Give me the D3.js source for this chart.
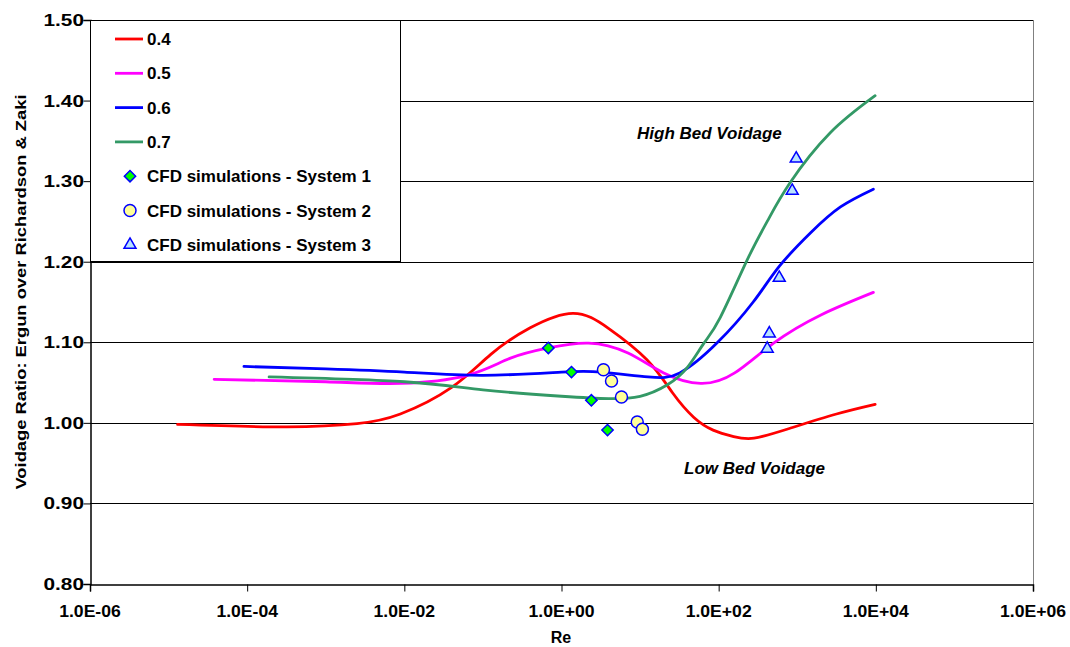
<!DOCTYPE html>
<html>
<head>
<meta charset="utf-8">
<script src="https://cdn.jsdelivr.net/npm/d3@7"></script>
<style>
  body { margin: 0; background: #fff; }
  svg { display: block; font-family: "Liberation Sans", Arial, sans-serif; }
  .tick-label { font-size: 16px; font-weight: bold; fill: #000; }
  .legend-text { font-size: 17px; font-weight: bold; }
  .note { font-size: 17px; font-weight: bold; font-style: italic; }
</style>
</head>
<body>
<svg id="canvas" width="1070" height="647"></svg>
<script>
// voidage curves (Re, ratio)
let re04 = [1.3e-5, 3.2e-4, 2.5e-3, 8.9e-3, 0.04, 0.126, 0.4, 1.4, 4, 12.3, 26, 48, 85, 155, 282, 794, 3160, 9800];
let ratio04 = [0.998, 0.995, 0.999, 1.011, 1.044, 1.085, 1.118, 1.136, 1.117, 1.078, 1.037, 1.007, 0.991, 0.983, 0.981, 0.993, 1.011, 1.023];

let re05 = [3.8e-5, 1e-3, 8.9e-3, 0.063, 0.22, 0.68, 2.2, 6.9, 20, 59, 160, 500, 2000, 9300];
let ratio05 = [1.054, 1.051, 1.049, 1.059, 1.080, 1.093, 1.099, 1.087, 1.062, 1.049, 1.062, 1.099, 1.134, 1.162];

let re06 = [9.1e-5, 1e-3, 0.01, 0.1, 1, 3.2, 12.6, 32, 95, 275, 600, 1480, 3550, 9300];
let ratio06 = [1.070, 1.067, 1.063, 1.059, 1.063, 1.063, 1.057, 1.062, 1.099, 1.150, 1.195, 1.236, 1.268, 1.290];

let re07 = [1.9e-4, 0.01, 0.1, 1, 4, 10, 22, 40, 65, 105, 230, 420, 810, 2630, 9800];
let ratio07 = [1.057, 1.051, 1.041, 1.033, 1.030, 1.033, 1.047, 1.069, 1.099, 1.131, 1.202, 1.251, 1.298, 1.360, 1.406];

// CFD points
let sys1Re = [0.68, 1.34, 2.4, 3.85];
let sys1Ratio = [1.093, 1.063, 1.028, 0.991];
let sys2Re = [3.42, 4.33, 5.8, 9.2, 10.7];
let sys2Ratio = [1.066, 1.052, 1.032, 1.001, 0.992];
let sys3Re = [970, 863, 590, 441, 415];
let sys3Ratio = [1.328, 1.288, 1.180, 1.111, 1.092];

let curveNames = ['0.4', '0.5', '0.6', '0.7'];
let pointNames = ['CFD simulations - System 1', 'CFD simulations - System 2', 'CFD simulations - System 3'];
let xTicks = [1e-6, 1e-4, 1e-2, 1, 1e2, 1e4, 1e6];
let yTicks = [0.8, 0.9, 1.0, 1.1, 1.2, 1.3, 1.4, 1.5];

let curveColors = ['#ff0000', '#ff00ff', '#0000ff', '#339966'];

let canvas = d3.select('#canvas');

let xScale = d3.scaleLog().domain([1e-6, 1e6]).range([90, 1033]);
let yScale = d3.scaleLinear().domain([0.8, 1.5]).range([584, 20]);

//gridlines
canvas.append('g')
    .selectAll('line')
    .data(yTicks.slice(1))
    .enter()
    .append('line')
    .attr('x1', 90).attr('x2', 1033)
    .attr('y1', (d) => Math.round(yScale(d)) + 0.5)
    .attr('y2', (d) => Math.round(yScale(d)) + 0.5)
    .attr('stroke', '#000')
    .attr('stroke-width', 1);

//right edge of plot area
canvas.append('line')
    .attr('x1', 1033.5).attr('x2', 1033.5)
    .attr('y1', 20).attr('y2', 584)
    .attr('stroke', '#808080');

//curves, natural spline for the smoothed look
let curves = [[re04, ratio04], [re05, ratio05], [re06, ratio06], [re07, ratio07]];
let lineGen = d3.line()
    .x((d) => xScale(d[0]))
    .y((d) => yScale(d[1]))
    .curve(d3.curveNatural);

curves.forEach((c, i) => {
    let pts = c[0].map((r, j) => [r, c[1][j]]);
    canvas.append('path')
        .datum(pts)
        .attr('d', lineGen)
        .attr('fill', 'none')
        .attr('stroke', curveColors[i])
        .attr('stroke-width', 2.8)
        .attr('stroke-linecap', 'round');
});

//marker shapes
let diamond = d3.symbol().type(d3.symbolSquare).size(64)();
let circle = d3.symbol().type(d3.symbolCircle).size(113)();
let triangle = d3.symbol().type(d3.symbolTriangle).size(62)();

let drawPoints = (res, ratios, shape, fill, rotate) => {
    canvas.append('g')
        .selectAll('path')
        .data(res.map((r, j) => [r, ratios[j]]))
        .enter()
        .append('path')
        .attr('d', shape)
        .attr('transform', (d) => 'translate(' + xScale(d[0]) + ',' + yScale(d[1]) + ')' + (rotate ? ' rotate(45)' : ''))
        .attr('fill', fill)
        .attr('stroke', '#0000ff')
        .attr('stroke-width', 1.5);
};
drawPoints(sys1Re, sys1Ratio, diamond, '#00ff00', true);
drawPoints(sys2Re, sys2Ratio, circle, '#ffff99', false);
drawPoints(sys3Re, sys3Ratio, triangle, '#b8e2ff', false);

//axes
let yAxis = d3.axisLeft(yScale).tickValues(yTicks).tickSize(7).tickFormat('');
canvas.append('g')
    .attr('transform', 'translate(90.5,0)')
    .call(yAxis);

let xAxis = d3.axisBottom(xScale).tickValues(xTicks).tickSize(7).tickFormat('');
canvas.append('g')
    .attr('transform', 'translate(0,584.5)')
    .call(xAxis);

canvas.selectAll('.tick line').attr('stroke', '#000');
canvas.selectAll('.domain').attr('stroke', '#000').attr('stroke-width', 1.5);

//tick labels
canvas.append('g')
    .selectAll('text')
    .data(yTicks)
    .enter()
    .append('text')
    .attr('class', 'tick-label')
    .attr('text-anchor', 'end')
    .attr('transform', (d) => 'translate(84,' + (yScale(d) + 6) + ') scale(1.3,1)')
    .text((d) => d3.format('.2f')(d));

let sciFormat = (v) => {
    let e = Math.round(Math.log10(v));
    return '1.0E' + (e < 0 ? '-' : '+') + String(Math.abs(e)).padStart(2, '0');
};
canvas.append('g')
    .selectAll('text')
    .data(xTicks)
    .enter()
    .append('text')
    .attr('class', 'tick-label')
    .attr('text-anchor', 'middle')
    .attr('transform', (d) => 'translate(' + xScale(d) + ',617) scale(1.1,1)')
    .text(sciFormat);

//axis titles
canvas.append('text')
    .attr('class', 'tick-label')
    .attr('text-anchor', 'middle')
    .attr('x', 561).attr('y', 643)
    .text('Re');

canvas.append('text')
    .attr('class', 'tick-label')
    .attr('text-anchor', 'middle')
    .attr('transform', 'translate(26,292) rotate(-90)')
    .attr('textLength', 395)
    .attr('lengthAdjust', 'spacingAndGlyphs')
    .style('font-size', '15px')
    .text('Voidage Ratio: Ergun over Richardson & Zaki');

//annotations
canvas.append('text').attr('class', 'note').attr('x', 637).attr('y', 139).text('High Bed Voidage');
canvas.append('text').attr('class', 'note').attr('x', 684).attr('y', 474).text('Low Bed Voidage');

//legend
let legend = canvas.append('g');
legend.append('rect')
    .attr('x', 90.5).attr('y', 20.5)
    .attr('width', 310).attr('height', 241)
    .attr('fill', '#fff')
    .attr('stroke', '#000');

curveNames.forEach((name, i) => {
    let cy = 39 + i * 34.3;
    legend.append('line')
        .attr('x1', 115).attr('x2', 143)
        .attr('y1', cy).attr('y2', cy)
        .attr('stroke', curveColors[i])
        .attr('stroke-width', 2.8);
    legend.append('text')
        .attr('class', 'legend-text')
        .attr('x', 147).attr('y', cy + 6)
        .text(name);
});

let legendShapes = [[diamond, '#00ff00', true], [circle, '#ffff99', false], [triangle, '#b8e2ff', false]];
pointNames.forEach((name, i) => {
    let cy = 39 + (i + 4) * 34.3;
    legend.append('path')
        .attr('d', legendShapes[i][0])
        .attr('transform', 'translate(130,' + cy + ')' + (legendShapes[i][2] ? ' rotate(45)' : ''))
        .attr('fill', legendShapes[i][1])
        .attr('stroke', '#0000ff')
        .attr('stroke-width', 1.5);
    legend.append('text')
        .attr('class', 'legend-text')
        .attr('x', 147).attr('y', cy + 6)
        .text(name);
});
</script>
</body>
</html>
